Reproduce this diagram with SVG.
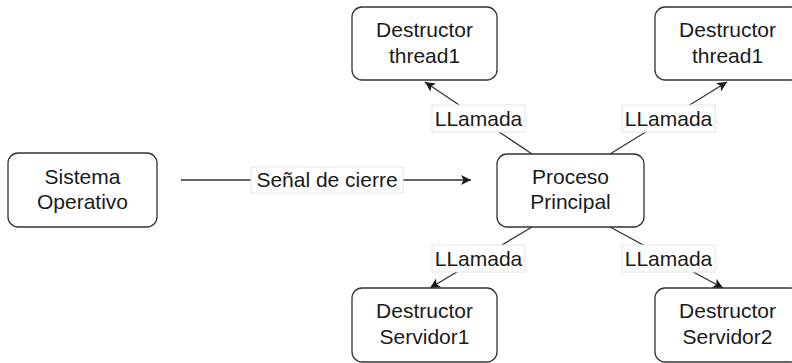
<svg xmlns="http://www.w3.org/2000/svg" width="792" height="363" viewBox="0 0 792 363">
  <style>
    .box { fill: #ffffff; stroke: #333333; stroke-width: 1.3; }
    .txt { font-family: "Liberation Sans", Arial, Helvetica, sans-serif; font-size: 21px; fill: #1a1a1a; text-anchor: middle; }
    .edge { stroke: #333333; stroke-width: 1.3; fill: none; }
    .lbl { fill: #ffffff; stroke: #e4e4e4; stroke-width: 1; }
  </style>
  <defs>
    <marker id="arrow" markerUnits="userSpaceOnUse" markerWidth="12" markerHeight="10" refX="10" refY="5" orient="auto">
      <path d="M0,0 L10,5 L0,10 L2.5,5 Z" fill="#1a1a1a"/>
    </marker>
  </defs>
  <rect width="792" height="363" fill="#ffffff"/>

  <g id="connectors">
    <line class="edge" x1="181" y1="180" x2="471" y2="180" marker-end="url(#arrow)"/>
    <line class="edge" x1="532" y1="154" x2="425" y2="82" marker-end="url(#arrow)"/>
    <line class="edge" x1="610" y1="154" x2="727" y2="82" marker-end="url(#arrow)"/>
    <line class="edge" x1="532" y1="227" x2="430" y2="288" marker-end="url(#arrow)"/>
    <line class="edge" x1="610" y1="227" x2="723" y2="288" marker-end="url(#arrow)"/>
    <rect class="lbl" x="251" y="167" width="152" height="26"/>
    <text class="txt" x="327" y="187">Señal de cierre</text>
    <rect class="lbl" x="432" y="105" width="93" height="27"/>
    <text class="txt" x="478.5" y="126">LLamada</text>
    <rect class="lbl" x="622" y="105" width="93" height="27"/>
    <text class="txt" x="668.5" y="126">LLamada</text>
    <rect class="lbl" x="432" y="245" width="93" height="27"/>
    <text class="txt" x="478.5" y="266">LLamada</text>
    <rect class="lbl" x="622" y="245" width="93" height="27"/>
    <text class="txt" x="668.5" y="266">LLamada</text>
  </g>

  <g id="sistema-operativo">
    <rect class="box" x="8" y="153" width="149" height="74" rx="10"/>
    <text class="txt" x="82.5" y="184">Sistema</text>
    <text class="txt" x="82.5" y="209">Operativo</text>
  </g>

  <g id="proceso-principal">
    <rect class="box" x="497" y="154" width="147" height="73" rx="10"/>
    <text class="txt" x="570.5" y="184">Proceso</text>
    <text class="txt" x="570.5" y="209">Principal</text>
  </g>

  <g id="destructor-thread1-a">
    <rect class="box" x="352" y="7" width="145" height="73" rx="10"/>
    <text class="txt" x="424.5" y="37">Destructor</text>
    <text class="txt" x="424.5" y="63">thread1</text>
  </g>

  <g id="destructor-thread1-b">
    <rect class="box" x="655" y="7" width="145" height="73" rx="10"/>
    <text class="txt" x="727.5" y="37">Destructor</text>
    <text class="txt" x="727.5" y="63">thread1</text>
  </g>

  <g id="destructor-servidor1">
    <rect class="box" x="352" y="288" width="145" height="74" rx="10"/>
    <text class="txt" x="424.5" y="318">Destructor</text>
    <text class="txt" x="424.5" y="344">Servidor1</text>
  </g>

  <g id="destructor-servidor2">
    <rect class="box" x="655" y="288" width="145" height="74" rx="10"/>
    <text class="txt" x="727.5" y="318">Destructor</text>
    <text class="txt" x="727.5" y="344">Servidor2</text>
  </g>
</svg>
